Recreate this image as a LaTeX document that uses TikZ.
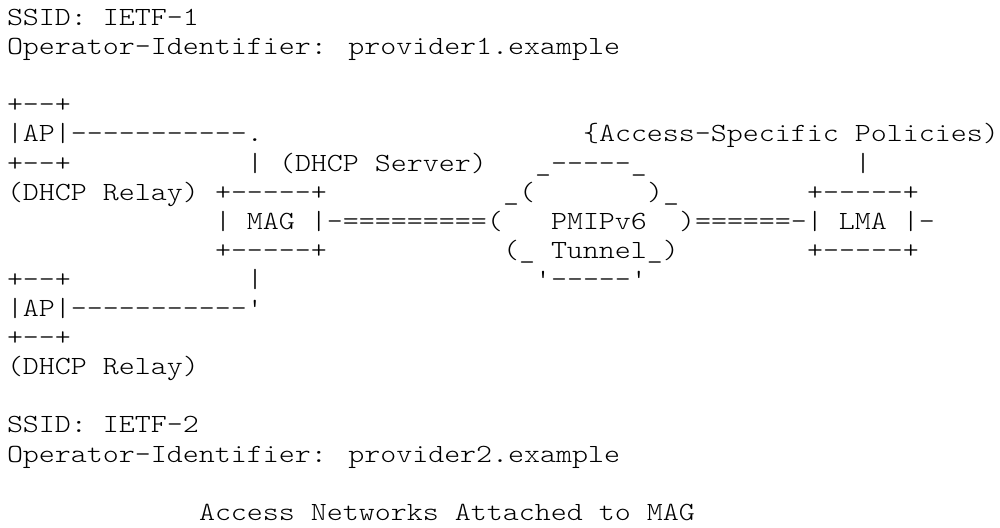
\documentclass[tikz,border=0pt]{standalone}
\usepackage{fontspec}
\usepackage{tikz}
\newfontfamily\asciifont{lmmonolt10-regular.otf}[FakeStretch=1.163,Ligatures=TeXOff]

\begin{document}
\begin{tikzpicture}[
    x=8pt, y=-14.55pt,
    ascii/.style={anchor=base west, inner sep=0pt, outer sep=0pt, font=\asciifont\fontsize{13.1pt}{14.55pt}\selectfont}
]
    \useasboundingbox (-3.5pt,12.8pt) rectangle (496.5pt,-251.2pt);

    % First SSID
    \node[ascii] (ssida) at (0,0) {SSID: IETF-1};
    \node[ascii] (opida) at (0,1) {Operator-Identifier: provider1.example};

    % Upper AP
    \node[ascii] (apatop) at (0,3) {+--+};
    \node[ascii] (apa) at (0,4) {|AP|-----------.};
    \node[ascii] (policies) at (36,4) {\{Access-Specific Policies)};
    \node[ascii] (apabot) at (0,5) {+--+};
    \node[ascii] (linka) at (15,5) {|};
    \node[ascii] (dhcpsrv) at (17,5) {(DHCP Server)};
    \node[ascii] (cloudtop) at (33,5) {\_-----\_};
    \node[ascii] (policybar) at (53,5) {|};
    \node[ascii] (relaya) at (0,6) {(DHCP Relay)};

    % MAG, tunnel and LMA
    \node[ascii] (magtop) at (13,6) {+-----+};
    \node[ascii] (cloudl) at (31,6) {\_(};
    \node[ascii] (cloudr) at (40,6) {)\_};
    \node[ascii] (lmatop) at (50,6) {+-----+};
    \node[ascii] (mag) at (13,7) {| MAG |-=========(};
    \node[ascii] (pmip) at (34,7) {PMIPv6};
    \node[ascii] (lma) at (42,7) {)======-| LMA |-};
    \node[ascii] (magbot) at (13,8) {+-----+};
    \node[ascii] (tunnel) at (31,8) {(\_ Tunnel\_)};
    \node[ascii] (lmabot) at (50,8) {+-----+};

    % Lower AP
    \node[ascii] (apbtop) at (0,9) {+--+};
    \node[ascii] (linkb) at (15,9) {|};
    \node[ascii] (cloudbot) at (33,9) {'-----'};
    \node[ascii] (apb) at (0,10) {|AP|-----------'};
    \node[ascii] (apbbot) at (0,11) {+--+};
    \node[ascii] (relayb) at (0,12) {(DHCP Relay)};

    % Second SSID
    \node[ascii] (ssidb) at (0,14) {SSID: IETF-2};
    \node[ascii] (opidb) at (0,15) {Operator-Identifier: provider2.example};

    % Caption
    \node[ascii] (caption) at (12,17) {Access Networks Attached to MAG};
\end{tikzpicture}
\end{document}
